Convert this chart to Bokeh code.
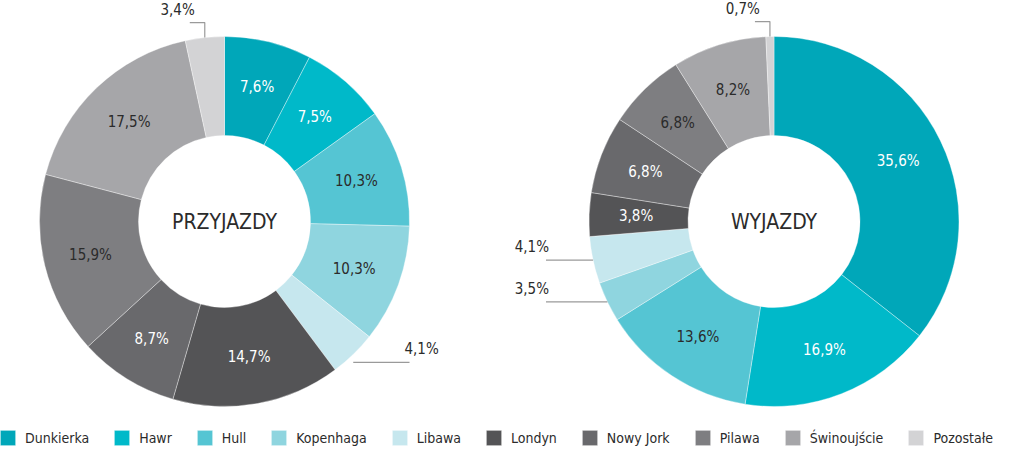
import numpy as np
from bokeh.plotting import figure
from bokeh.models import ColumnDataSource, Range1d, Legend, LegendItem
from bokeh.core.properties import value
from bokeh.embed import file_html
from bokeh.resources import INLINE

categories = ["Dunkierka", "Hawr", "Hull", "Kopenhaga", "Libawa", "Londyn",
              "Nowy Jork", "Pilawa", "Świnoujście", "Pozostałe"]
przyjazdy = [7.6, 7.5, 10.3, 10.3, 4.1, 14.7, 8.7, 15.9, 17.5, 3.4]
wyjazdy = [35.6, 16.9, 13.6, 3.5, 4.1, 3.8, 6.8, 6.8, 8.2, 0.7]
colors = ["#00A7B9", "#00B9C9", "#55C5D3", "#8FD5DF", "#C6E7EE",
          "#545456", "#69696C", "#7E7E81", "#A6A6A9", "#D3D3D5"]
label_colors = ["white", "white", "#2b2b2b", "#2b2b2b", "#2b2b2b",
                "white", "white", "#2b2b2b", "#2b2b2b", "#2b2b2b"]
outside_przyjazdy = ["Libawa", "Pozostałe"]
outside_wyjazdy = ["Kopenhaga", "Libawa", "Pozostałe"]
titles = ["PRZYJAZDY", "WYJAZDY"]

FONT_STR = "'Liberation Sans Narrow', 'DejaVu Sans Condensed', 'Roboto', sans-serif"
FONT = value(FONT_STR)
TXT = "#2b2b2b"

W, H = 995, 447
p = figure(width=W, height=H, x_range=Range1d(0, W), y_range=Range1d(0, H),
           output_backend="svg", toolbar_location=None,
           x_axis_type=None, y_axis_type=None, min_border=0)
p.grid.visible = False
p.outline_line_color = None
p.background_fill_color = "white"

R_OUT, R_IN, R_LAB = 185, 86, 138


def fmt(v):
    return f"{v:.1f}".replace(".", ",") + "%"


def donut(cx, cy, vals, outside, title):
    v = np.array(vals, dtype=float)
    frac = v / v.sum()
    cum = np.cumsum(frac)
    start = np.pi / 2 - 2 * np.pi * (cum - frac)
    end = np.pi / 2 - 2 * np.pi * cum
    mid = (start + end) / 2
    src = ColumnDataSource(dict(
        x=[cx] * len(v), y=[cy] * len(v), start=start, end=end,
        color=colors, name=categories))
    r = p.annular_wedge(x="x", y="y", inner_radius=R_IN, outer_radius=R_OUT,
                        start_angle="start", end_angle="end", direction="clock",
                        fill_color="color", line_color="white", line_width=0.6,
                        line_alpha=0.6, source=src)
    ins = [i for i, c in enumerate(categories) if c not in outside]
    lsrc = ColumnDataSource(dict(
        x=[cx + R_LAB * np.cos(mid[i]) for i in ins],
        y=[cy + R_LAB * np.sin(mid[i]) for i in ins],
        t=[fmt(vals[i]) for i in ins],
        c=[label_colors[i] for i in ins]))
    p.text(x="x", y="y", text="t", text_color="c", source=lsrc,
           text_align="center", text_baseline="middle",
           text_font=FONT, text_font_size="15px")
    for i, c in enumerate(categories):
        if c not in outside:
            continue
        ox = cx + R_OUT * np.cos(mid[i])
        oy = cy + R_OUT * np.sin(mid[i])
        if np.sin(mid[i]) > 0.9:
            xs = [ox, ox, ox - 15]
            ys = [oy, oy + 15, oy + 15]
            tx, ty, al = ox - 10, oy + 19, "right"
        elif np.cos(mid[i]) > 0:
            xs = [ox, cx + R_OUT]
            ys = [oy - 8, oy - 8]
            tx, ty, al = cx + R_OUT - 5, oy - 4, "left"
        else:
            xs = [ox, cx - R_OUT - 43]
            ys = [oy, oy]
            tx, ty, al = cx - R_OUT - 40, oy + 4, "right"
        p.line(xs, ys, line_color="#9a9a9a", line_width=1.2)
        p.text(x=[tx], y=[ty], text=[fmt(vals[i])], text_color=TXT,
               text_align=al, text_baseline="bottom",
               text_font=FONT, text_font_size="15px")
    p.text(x=[cx], y=[cy], text=[title], text_color=TXT, text_align="center",
           text_baseline="middle", text_font=FONT, text_font_size="21px")
    return r


r_left = donut(224, 226, przyjazdy, outside_przyjazdy, titles[0])
r_right = donut(773.5, 226, wyjazdy, outside_wyjazdy, titles[1])

items = [LegendItem(label=c, renderers=[r_left], index=i) for i, c in enumerate(categories)]
legend = Legend(items=items, orientation="horizontal", location=(-2, 0),
                glyph_width=19, glyph_height=19, label_standoff=8, spacing=23,
                padding=0, margin=0, border_line_color=None,
                background_fill_alpha=0, label_text_font=FONT_STR,
                label_text_font_size="14px", label_text_color=TXT,
                label_height=19)
p.add_layout(legend)

open("out.html", "w").write(file_html(p, INLINE))
